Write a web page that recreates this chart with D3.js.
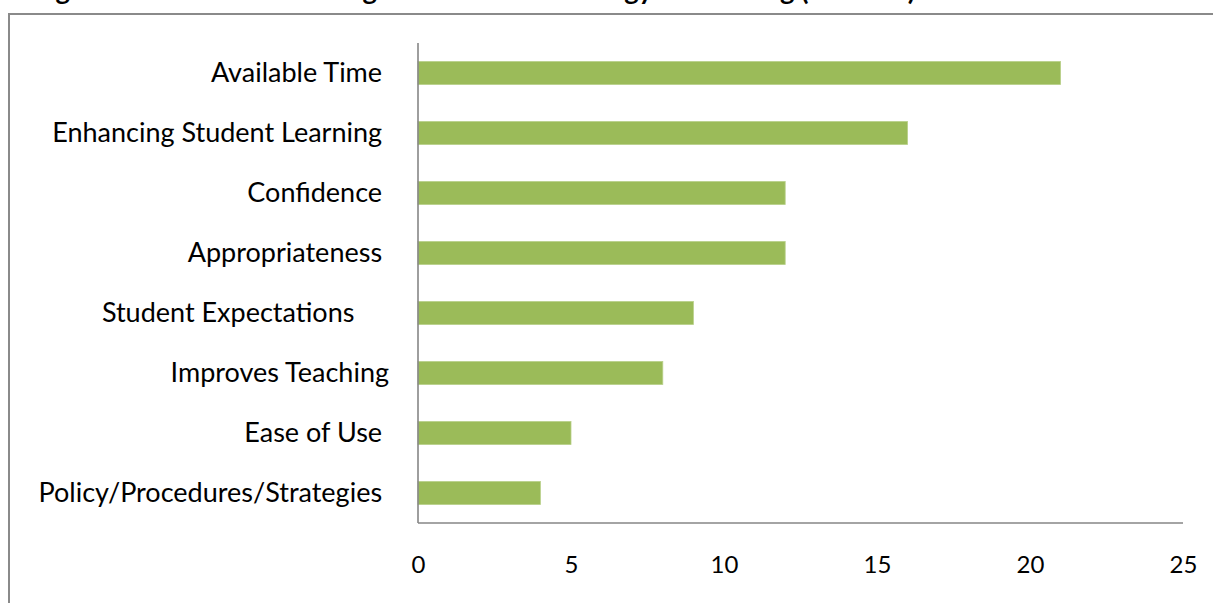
<!DOCTYPE html>
<html>
<head>
<meta charset="utf-8">
<script src="https://cdn.jsdelivr.net/npm/d3@7"></script>
<style>
  html, body { margin: 0; padding: 0; background: #fff; overflow: hidden; }
  svg { display: block; }
  text { font-family: Lato, "Open Sans", sans-serif; fill: #000; }
</style>
</head>
<body>
<svg id="chart" width="1213" height="603"></svg>
<script>
// Factors and their response counts, top to bottom (labels keep their trailing spaces)
const categories = [
  "Available Time ",
  "Enhancing Student Learning ",
  "Confidence ",
  "Appropriateness ",
  "Student Expectations     ",
  "Improves Teaching",
  "Ease of Use ",
  "Policy/Procedures/Strategies "
];
const values = [21, 16, 12, 12, 9, 8, 5, 4];
const xTicks = [0, 5, 10, 15, 20, 25];
const titleText = "Figure 5: Factors Influencing the Use of Technology in Teaching (Number)";

const svg = d3.select("#chart");
const W = 1213, H = 603;
const plot = { left: 418, right: 1183, top: 43, bottom: 523 };

// Title, mostly above the visible area
svg.append("text")
  .attr("x", 33)
  .attr("y", 0)
  .attr("font-size", 27.4)
  .attr("font-weight", "bold")
  .text(titleText);

// Chart frame
svg.append("rect")
  .attr("x", 9).attr("y", 14)
  .attr("width", W + 20).attr("height", H + 20)
  .attr("fill", "none")
  .attr("stroke", "#8a8a8a")
  .attr("stroke-width", 2);

const x = d3.scaleLinear().domain([0, 25]).range([plot.left, plot.right]);
const y = d3.scaleBand().domain(categories).range([plot.top, plot.bottom]).paddingInner(0.615).paddingOuter(0.3075);

// Bars
svg.append("g").selectAll("rect")
  .data(categories)
  .join("rect")
  .attr("x", x(0))
  .attr("y", d => y(d))
  .attr("width", (d, i) => x(values[i]) - x(0))
  .attr("height", y.bandwidth())
  .attr("fill", "#9bbb59")
  .attr("stroke", "#b9d08a")
  .attr("stroke-width", 0.8);

// Category labels
const yAxis = d3.axisLeft(y).tickSize(0).tickPadding(29);
const gy = svg.append("g").attr("transform", `translate(${plot.left},0)`).call(yAxis);
gy.select(".domain").remove();
gy.selectAll("text")
  .attr("font-size", 27)
  .style("font-family", "Lato, 'Open Sans', sans-serif")
  .style("white-space", "pre")
  .attr("fill", "#000");

// Value labels along the bottom
const xAxis = d3.axisBottom(x).tickValues(xTicks).tickSize(0).tickPadding(33);
const gx = svg.append("g").attr("transform", `translate(0,${plot.bottom})`).call(xAxis);
gx.select(".domain").remove();
gx.selectAll("text")
  .attr("font-size", 24)
  .style("font-family", "Lato, 'Open Sans', sans-serif")
  .attr("fill", "#000");

// Axis lines
svg.append("line")
  .attr("x1", plot.left).attr("x2", plot.left)
  .attr("y1", plot.top).attr("y2", plot.bottom)
  .attr("stroke", "#868686").attr("stroke-width", 1.6);
svg.append("line")
  .attr("x1", plot.left).attr("x2", plot.right)
  .attr("y1", plot.bottom).attr("y2", plot.bottom)
  .attr("stroke", "#868686").attr("stroke-width", 1.6);
</script>
</body>
</html>
